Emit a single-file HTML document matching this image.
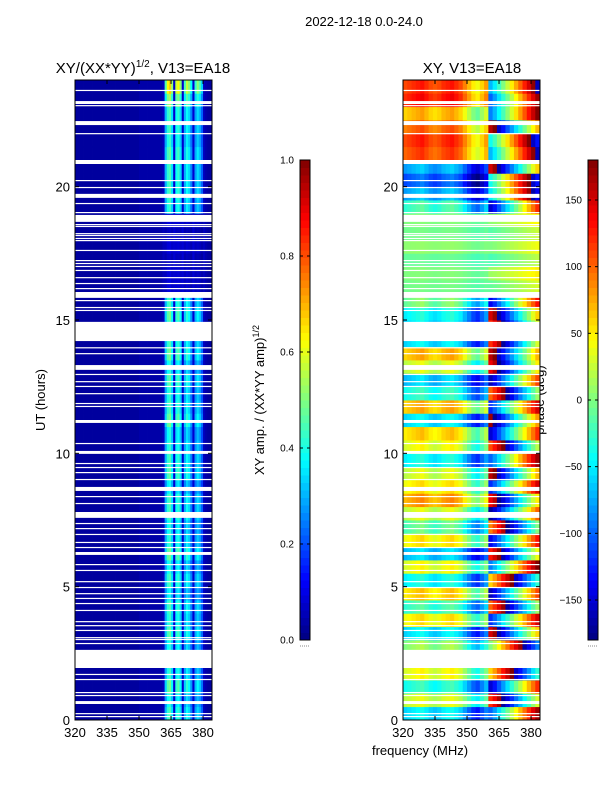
<!DOCTYPE html>
<html><head><meta charset="utf-8">
<style>
body{margin:0;background:#fff;width:600px;height:800px;overflow:hidden;font-family:"Liberation Sans",sans-serif}
svg{position:absolute;left:0;top:0}
text{font-family:"Liberation Sans","DejaVu Sans",sans-serif;fill:#000}
</style></head>
<body>
<svg id="fig" width="600" height="800" viewBox="0 0 600 800">
<text x="364" y="26" font-size="13" text-anchor="middle">2022-12-18 0.0-24.0</text>
<text x="143" y="73" font-size="15" text-anchor="middle">XY/(XX*YY)<tspan font-size="10" dy="-6">1/2</tspan><tspan dy="6">, V13=EA18</tspan></text>
<text x="472" y="73" font-size="15" text-anchor="middle">XY, V13=EA18</text>
<text x="45" y="400" font-size="13" text-anchor="middle" transform="rotate(-90 45 400)">UT (hours)</text>
<text x="420" y="755" font-size="13" text-anchor="middle">frequency (MHz)</text>
<text x="264" y="400" font-size="13" text-anchor="middle" transform="rotate(-90 264 400)">XY amp. / (XX*YY amp)<tspan font-size="9" dy="-5">1/2</tspan></text>
<text x="544" y="400" font-size="13" text-anchor="middle" transform="rotate(-90 544 400)">phase (deg)</text>
<g id="left"></g><g id="right"></g><g id="cb1"></g><g id="cb2"></g>
</svg>
<script>
const ampCol=[0.03,0.03,0.03,0.03,0.03,0.03,0.03,0.03,0.03,0.03,0.03,0.03,0.03,0.03,0.03,0.03,0.03,0.03,0.03,0.03,0.03,0.03,0.03,0.03,0.03,0.03,0.03,0.03,0.03,0.03,0.04,0.04,0.04,0.04,0.04,0.04,0.04,0.04,0.04,0.04,0.04,0.06,0.3,0.42,0.45,0.35,0.08,0.38,0.42,0.34,0.08,0.3,0.38,0.34,0.25,0.08,0.28,0.34,0.3,0.22,0.06,0.04,0.03,0.03];
const rowAmp=[1.0,0.9,1.1,0.95,1.0,0.9,1.05,0.95,1.0,0.85,1.0,0.9,1.1,0.95,0.9,1.0,1.0,0.85,1.05,1.0,0.95,0.9,1.1,1.0,0.95,1.05,0.9,1.1,1.0,1.0,1.1,1.0,0.2,0.2,0.15,0.2,0.15,0.2,0.95,1.0,1.0,1.0,1.05,0.95,1.0,1.0,1.2,1.5];
const leftPh=[-60,20,-40,30,0,0,-60,40,-30,50,-50,30,-70,40,-20,20,70,40,20,-50,30,50,-60,60,-40,-70,20,60,-60,-60,-50,-10,-5,0,-10,5,-5,0,-30,-80,-110,-80,100,110,90,60,120,110];
const rightPh=[-100,120,-150,60,0,0,150,-120,100,-160,60,-90,130,-140,90,-170,140,-120,160,-100,110,-150,170,-120,100,-160,140,160,120,120,150,-140,-10,10,-20,0,-15,5,-150,-50,-40,150,-70,-40,160,-90,-100,-70];
const twist=[1,1,1,1,1,1,1,1,1,1,1,1,1,1,1,1,1,1,1,1,1,1,1,1,1,1,1,1,1,1,1,1,0.15,0.15,0.15,0.15,0.15,0.15,1,1,1,1,1,1,1,1,1,1];
const colOff=[0,5,10,15,20,10,0,-5,0,10,15,20,10,0,-20,-40,-60,-70,-50,-30,0,20,45,70,95,120,145,170,195,220,245,270];
const gapStart=[23.59,23.02,21.97,20.21,19.95,19.35,19.01,18.56,18.49,18.22,18.15,18.04,17.96,17.59,17.21,17.1,16.99,16.84,16.57,16.35,16.16,15.71,15.45,15.34,13.94,13.72,12.94,12.67,12.49,12.22,11.85,11.74,10.35,9.6,9.45,9.26,9.0,8.36,8.1,7.35,7.16,6.94,6.64,6.45,5.81,5.59,5.17,4.95,4.72,4.54,4.35,4.09,3.67,3.52,3.34,3.07,3.0,2.85,1.69,1.5,1.01,0.9,0.22,0.11,23.1,22.31,20.85,19.58,18.68,15.83,14.21,13.13,11.14,9.98,8.59,7.58,6.19,1.95,0.6];
const gapEnd=[23.63,23.06,22.01,20.25,19.99,19.39,19.05,18.6,18.53,18.26,18.19,18.08,18.0,17.63,17.25,17.14,17.03,16.88,16.61,16.39,16.2,15.75,15.49,15.38,13.98,13.76,12.98,12.71,12.53,12.26,11.89,11.78,10.39,9.64,9.49,9.3,9.04,8.4,8.14,7.39,7.2,6.98,6.68,6.49,5.85,5.63,5.21,4.99,4.76,4.58,4.39,4.13,3.71,3.56,3.38,3.11,3.04,2.89,1.73,1.54,1.05,0.94,0.26,0.15,23.21,22.46,21.0,19.73,18.94,16.05,14.93,13.31,11.25,10.09,8.74,7.8,6.3,2.63,0.71];
const xTicks=[320,335,350,365,380];
const yTicks=[0,5,10,15,20];
const ampTicks=[0.0,0.2,0.4,0.6,0.8,1.0];
const phTicks=[-150,-100,-50,0,50,100,150];

const NS='http://www.w3.org/2000/svg';
function jet(v){v=Math.max(0,Math.min(1,v));
 const r=Math.max(0,Math.min(1,Math.min(4*v-1.5,-4*v+4.5)));
 const g=Math.max(0,Math.min(1,Math.min(4*v-0.5,-4*v+3.5)));
 const b=Math.max(0,Math.min(1,Math.min(4*v+0.5,-4*v+2.5)));
 return `rgb(${Math.round(r*255)},${Math.round(g*255)},${Math.round(b*255)})`;}
function el(tag,attrs,parent){const e=document.createElementNS(NS,tag);for(const k in attrs)e.setAttribute(k,attrs[k]);parent.appendChild(e);return e;}
function wrap(p){while(p>180)p-=360;while(p<-180)p+=360;return p;}
const Y0=720,Y1=80;
function yS(h){return Y0-(h/24)*(Y0-Y1);}
function makeX(x0,x1){return f=>x0+(f-320)/(384.2-320)*(x1-x0);}

function drawPanel(g,x0,x1,kind){
 const xS=makeX(x0,x1);
 const nc=kind==='amp'?ampCol.length:colOff.length;
 const df=64/nc;
 for(let i=0;i<48;i++){
  for(let j=0;j<nc;j++){
   let v;
   if(kind==='amp'){v=ampCol[j]*(ampCol[j]>0.1?rowAmp[i]:1);}
   else{const base=j<20?leftPh[i]:rightPh[i];v=(wrap(base+colOff[j]*twist[i])+180)/360;}
   const xa=xS(320+j*df),xb=Math.min(xS(320+(j+1)*df),x1);
   const r=el('rect',{x:xa,y:yS(i*0.5+0.5),width:xb-xa+0.4,height:yS(i*0.5)-yS(i*0.5+0.5)+0.4,fill:jet(v)},g);
   
   
  }
 }
 for(let k=0;k<gapStart.length;k++){
  const ya=yS(gapEnd[k]),yb=yS(gapStart[k]);
  const r=el('rect',{x:x0,y:ya,width:x1-x0,height:Math.max(1.2,yb-ya),fill:'#fff'},g);
  
  
 }
 const fr=el('rect',{x:x0,y:Y1,width:x1-x0,height:Y0-Y1,fill:'none',stroke:'#000','stroke-width':1},g);
 
 
 xTicks.forEach(t=>{const x=xS(t);
  el('line',{x1:x,x2:x,y1:Y0,y2:Y0-4,stroke:'#000'},g);
  el('line',{x1:x,x2:x,y1:Y1,y2:Y1+4,stroke:'#000'},g);
  const tx=el('text',{x:x,y:Y0+17,'font-size':13,'text-anchor':'middle'},g);tx.textContent=t;
  
  });
 yTicks.forEach(t=>{const y=yS(t);
  el('line',{x1:x0,x2:x0+4,y1:y,y2:y,stroke:'#000'},g);
  el('line',{x1:x1,x2:x1-4,y1:y,y2:y,stroke:'#000'},g);
  const tx=el('text',{x:x0-5,y:y+5,'font-size':13,'text-anchor':'end'},g);tx.textContent=t;
  
  });
}
drawPanel(document.getElementById('left'),75,212,'amp');
drawPanel(document.getElementById('right'),403,540,'phase');

function drawCb(g,x,lo,hi,ticks,fmt){
 const n=64,top=160,bot=640;
 for(let k=0;k<n;k++){
  const r=el('rect',{x:x,y:bot-(k+1)*(bot-top)/n,width:10,height:(bot-top)/n+0.5,fill:jet((k+0.5)/n)},g);
  
  
 }
 el('rect',{x:x,y:top,width:10,height:bot-top,fill:'none',stroke:'#000'},g);
 ticks.forEach(t=>{const y=bot-(t-lo)/(hi-lo)*(bot-top);
  el('line',{x1:x,x2:x+3,y1:y,y2:y,stroke:'#000'},g);
  el('line',{x1:x+10,x2:x+7,y1:y,y2:y,stroke:'#000'},g);
  const tx=el('text',{x:x-6,y:y+3.5,'font-size':10,'text-anchor':'end'},g);tx.textContent=fmt(t);
  
  });
 el('line',{x1:x,x2:x+10,y1:646,y2:646,stroke:'#888','stroke-dasharray':'1 1'},g);
}
drawCb(document.getElementById('cb1'),300,0,1,ampTicks,t=>t.toFixed(1));
drawCb(document.getElementById('cb2'),588,-180,180,phTicks,t=>t<0?'\u2212'+Math.abs(t):String(t));
</script>
</body></html>
